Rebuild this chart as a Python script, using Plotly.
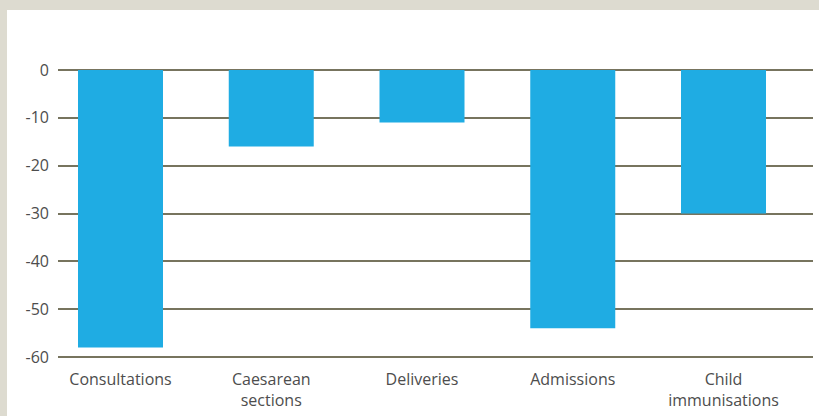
import plotly.graph_objects as go

categories = ["Consultations", "Caesarean<br>sections", "Deliveries", "Admissions", "Child<br>immunisations"]
values = [-58, -16, -11, -54, -30]
y_ticks = [0, -10, -20, -30, -40, -50, -60]

W, H = 819, 416
L, R, T, B = 58, 6, 67, 56
pw, ph = W - L - R, H - T - B
# 0 sits at y=70 and -60 at y=357; pad range so plotly keeps the edge gridlines
unit = (357 - 70) / 60
top_pad = (70 - T) / unit
bot_pad = (H - B - 357) / unit
slot = 150.75
x_range = [-(120.5 - L) / slot, 4 + (W - R - 723.5) / slot]


def px(x):
    return (x - L) / pw


def py(y):
    return (H - B - y) / ph


border = "#dddbd0"

fig = go.Figure(go.Bar(
    x=categories, y=values, width=85 / slot,
    marker=dict(color="#1facE3", line=dict(width=0)),
))

fig.update_layout(
    width=W, height=H,
    margin=dict(l=L, r=R, t=T, b=B),
    paper_bgcolor="white", plot_bgcolor="white",
    showlegend=False,
    font=dict(family="Open Sans, Noto Sans, sans-serif", size=16, color="#4d4d4d"),
    xaxis=dict(range=x_range, showgrid=False, zeroline=False, showline=False, ticks="",
               ticklabelstandoff=8, tickfont=dict(size=16)),
    yaxis=dict(range=[-60 - bot_pad, top_pad], tickvals=y_ticks, ticktext=[str(v) for v in y_ticks],
               showgrid=True, gridcolor="#77745e", gridwidth=1.5,
               zeroline=False, showline=False, ticks="", ticklabelstandoff=8,
               tickfont=dict(size=16)),
    shapes=[
        dict(type="rect", xref="paper", yref="paper", layer="below",
             x0=px(0), x1=px(W), y0=py(10), y1=py(0),
             fillcolor=border, line=dict(width=0)),
        dict(type="rect", xref="paper", yref="paper", layer="below",
             x0=px(0), x1=px(7), y0=py(H), y1=py(0),
             fillcolor=border, line=dict(width=0)),
    ],
)

fig.write_html("out.html", config={"displayModeBar": False},
               post_script="document.body.style.margin='0';")
